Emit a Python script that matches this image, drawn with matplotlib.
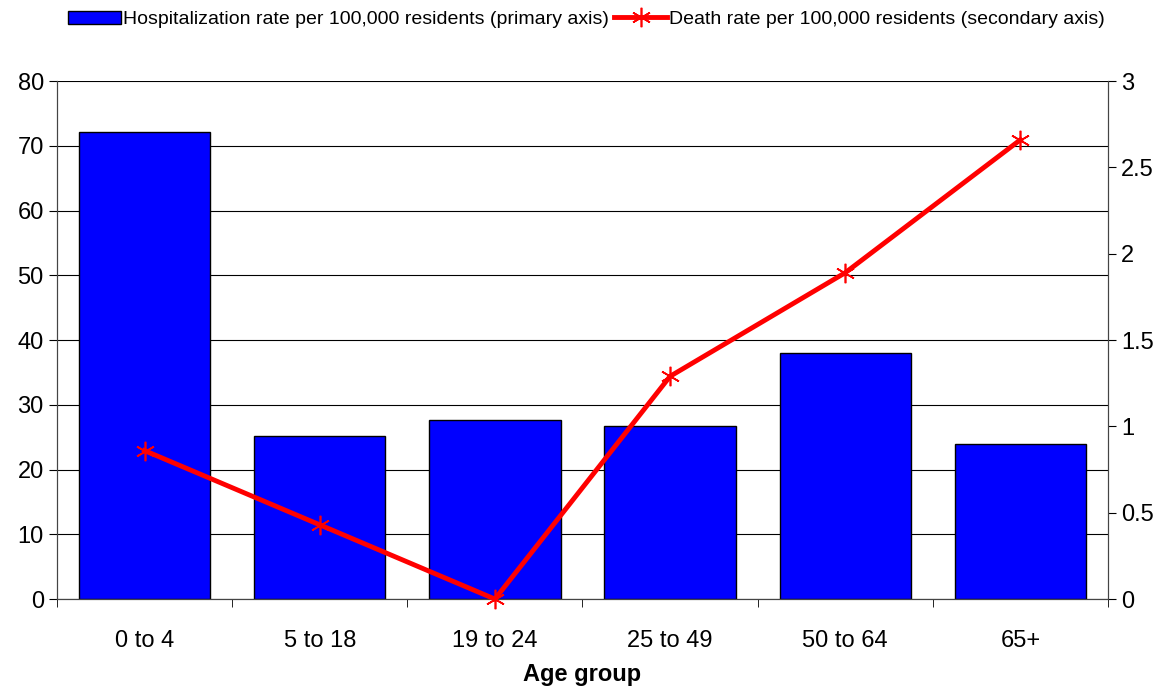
import numpy as np
import matplotlib.pyplot as plt
from matplotlib.ticker import FixedLocator

plt.rcParams['font.family'] = ['Liberation Sans', 'DejaVu Sans']

age_groups = ['0 to 4', '5 to 18', '19 to 24', '25 to 49', '50 to 64', '65+']
hosp_rate = [72.1, 25.2, 27.6, 26.7, 38.0, 23.9]
death_rate = [0.86, 0.43, 0.0, 1.29, 1.89, 2.66]

fig = plt.figure(figsize=(11.68, 6.87), dpi=100)
ax = fig.add_axes([0.0488, 0.128, 0.8998, 0.754])
x = np.arange(len(age_groups))

# bars on primary axis
ax.set_axisbelow(True)
ax.yaxis.grid(True, color='black', linewidth=0.8)
bars = ax.bar(x, hosp_rate, width=0.75, color='#0000ff', edgecolor='black', linewidth=1,
              label='Hospitalization rate per 100,000 residents (primary axis)', zorder=2)
ax.set_xlim(-0.5, len(age_groups) - 0.5)
ax.set_ylim(0, 80)
ax.set_yticks(range(0, 81, 10))
ax.set_xticks(x)
ax.set_xticklabels(age_groups)
ax.xaxis.set_minor_locator(FixedLocator(np.arange(-0.5, len(age_groups), 1)))
ax.tick_params(axis='x', which='major', length=0, pad=22, labelsize=17)
ax.tick_params(axis='x', which='minor', length=6, direction='out')
ax.tick_params(axis='y', length=6, direction='out', labelsize=17)
ax.set_xlabel('Age group', fontsize=17, fontweight='bold', labelpad=8)
ax.spines['top'].set_visible(False)
for s in ['left', 'right', 'bottom']:
    ax.spines[s].set_color('#444444')

# line on secondary axis
ax2 = ax.twinx()
ax2.plot(x, death_rate, color='#ff0000', linewidth=3.5, marker=(6, 2, 0), markersize=14,
         markeredgewidth=1.2, markeredgecolor='#ff0000',
         label='Death rate per 100,000 residents (secondary axis)', clip_on=False, zorder=3)
ax2.set_ylim(0, 3)
ax2.set_yticks([0, 0.5, 1, 1.5, 2, 2.5, 3])
ax2.set_yticklabels(['0', '0.5', '1', '1.5', '2', '2.5', '3'])
ax2.tick_params(axis='y', length=6, direction='out', labelsize=17)
ax2.spines['top'].set_visible(False)
for s in ['left', 'right', 'bottom']:
    ax2.spines[s].set_color('#444444')

h1, l1 = ax.get_legend_handles_labels()
h2, l2 = ax2.get_legend_handles_labels()
fig.legend(h1 + h2, l1 + l2, loc='upper center', bbox_to_anchor=(0.502, 1.01), ncol=2,
           frameon=False, fontsize=14, handlelength=2.7, handletextpad=0.1, columnspacing=0.3)

fig.savefig('out.png', dpi=100)
